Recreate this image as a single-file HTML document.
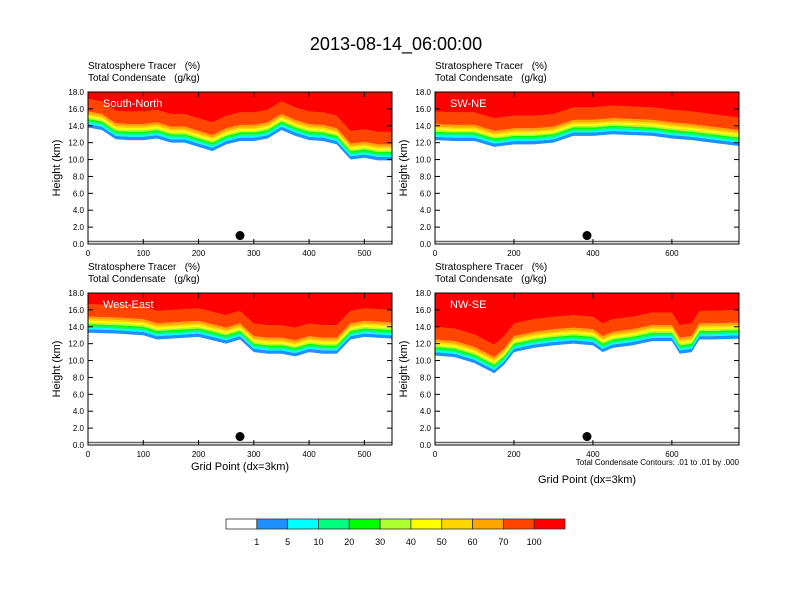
<!DOCTYPE html>
<html><head><meta charset="utf-8"><style>
body{margin:0;background:#fff}
svg{display:block;font-family:"Liberation Sans",sans-serif}
text{white-space:pre}
</style></head><body>
<svg id="c" width="792" height="612" viewBox="0 0 792 612">
<text x="396" y="50" font-size="18" text-anchor="middle">2013-08-14_06:00:00</text>
<g id="panels"></g>
<g id="cbar"></g>
</svg>
<script>
const levelLabels=["1","5","10","20","30","40","50","60","70","100"];
const levelColors=["#ffffff","#1e90ff","#00ffff","#00ff7f","#00ff00","#adff2f","#ffff00","#ffd700","#ffa500","#ff4500","#ff0000"];
const bandOffsets=[0,0.4,0.6,0.8,1.0,1.2,1.4,1.6,1.9,3.4];
const yTicks=[0,2,4,6,8,10,12,14,16,18];
const gridSN=[0,25,50,75,100,125,150,175,200,225,250,275,300,325,350,375,400,425,450,475,500,525,550];
const baseSN=[13.8,13.5,12.4,12.3,12.3,12.5,12.0,12.0,11.5,11.0,11.8,12.2,12.2,12.5,13.5,12.8,12.3,12.2,11.8,10.0,10.2,9.9,9.9];
const gridSWNE=[0,50,100,150,200,250,300,350,400,450,500,550,600,650,700,770];
const baseSWNE=[12.3,12.2,12.2,11.5,11.8,11.8,12.0,12.8,12.8,13.0,12.9,12.8,12.5,12.3,12.0,11.6];
const gridWE=[0,50,100,125,150,200,250,275,300,325,350,375,400,425,450,475,500,550];
const baseWE=[13.3,13.2,13.0,12.5,12.6,12.8,12.0,12.5,11.0,10.8,10.8,10.5,11.0,10.8,10.8,12.5,12.8,12.6];
const gridNWSE=[0,50,100,150,175,200,250,300,350,400,425,450,500,550,600,620,650,670,700,770];
const baseNWSE=[10.6,10.4,9.7,8.5,9.5,11.0,11.5,11.8,12.0,11.8,11.0,11.5,11.8,12.3,12.3,10.8,11.0,12.5,12.5,12.6];
const dotSN=[275,1.0],dotSWNE=[385,1.0],dotWE=[275,1.0],dotNWSE=[385,1.0];
const NS="http://www.w3.org/2000/svg";
function mk(t,a,p){const e=document.createElementNS(NS,t);for(const k in a)e.setAttribute(k,a[k]);p.appendChild(e);return e;}
const panels=[
 {name:"south-north",label:"South-North",x0:88,y0:92,xmax:550,xt:[0,100,200,300,400,500],grid:gridSN,base:baseSN,dot:dotSN,xlab:false},
 {name:"sw-ne",label:"SW-NE",x0:435,y0:92,xmax:770,xt:[0,200,400,600],grid:gridSWNE,base:baseSWNE,dot:dotSWNE,xlab:false},
 {name:"west-east",label:"West-East",x0:88,y0:293,xmax:550,xt:[0,100,200,300,400,500],grid:gridWE,base:baseWE,dot:dotWE,xlab:true},
 {name:"nw-se",label:"NW-SE",x0:435,y0:293,xmax:770,xt:[0,200,400,600],grid:gridNWSE,base:baseNWSE,dot:dotNWSE,xlab:true}];
const W=304,H=152,root=document.getElementById('panels');
panels.forEach(p=>{
 const g=mk('g',{},root);
 
 
 const sx=v=>p.x0+v/p.xmax*W, sy=v=>p.y0+H-v/18*H;
 const t1=mk('text',{x:p.x0,y:p.y0-23,'font-size':10},g);t1.textContent="Stratosphere Tracer   (%)";
 
 const t2=mk('text',{x:p.x0,y:p.y0-11,'font-size':10},g);t2.textContent="Total Condensate   (g/kg)";
 
 const cid='clip-'+p.name;
 const cp=mk('clipPath',{id:cid},g);mk('rect',{x:p.x0,y:p.y0,width:W,height:H},cp);
 const fills=mk('g',{'clip-path':'url(#'+cid+')'},g);
 for(let i=0;i<bandOffsets.length;i++){
  const lo=p.grid.map((x,j)=>[sx(x),sy(p.base[j]+bandOffsets[i])]);
  const hiv=i+1<bandOffsets.length?p.grid.map((x,j)=>[sx(x),sy(p.base[j]+bandOffsets[i+1])]):p.grid.map(x=>[sx(x),p.y0]);
  const pts=lo.concat(hiv.reverse()).map(q=>q.join(',')).join(' ');
  const band=mk('polygon',{points:pts,fill:levelColors[i+1]},fills);
  
  
 }
 const top=mk('polygon',{points:p.grid.map((x,j)=>sx(x)+','+sy(p.base[j]+bandOffsets[bandOffsets.length-1])).join(' ')+' '+sx(p.xmax)+','+p.y0+' '+p.x0+','+p.y0,fill:levelColors[10]},fills);
 
 
 const gl=mk('line',{x1:p.x0,x2:p.x0+W,y1:sy(0.3),y2:sy(0.3),stroke:'#666','stroke-width':1.5},g);
 
 const dot=mk('circle',{cx:sx(p.dot[0]),cy:sy(p.dot[1]),r:4.5,fill:'#000'},g);
 
 const fr=mk('rect',{x:p.x0,y:p.y0,width:W,height:H,fill:'none',stroke:'#000','stroke-width':1},g);
 
 const lb=mk('text',{x:p.x0+15,y:p.y0+15,'font-size':11,fill:'#fff'},g);lb.textContent=p.label;
 
 yTicks.forEach(v=>{
  const y=sy(v);
  mk('line',{x1:p.x0,x2:p.x0+5,y1:y,y2:y,stroke:'#000'},g);
  mk('line',{x1:p.x0+W,x2:p.x0+W-5,y1:y,y2:y,stroke:'#000'},g);
  const t=mk('text',{x:p.x0-4,y:y+3,'font-size':8,'text-anchor':'end'},g);t.textContent=v.toFixed(1);
  
 });
 p.xt.forEach(v=>{
  const x=sx(v);
  mk('line',{x1:x,x2:x,y1:p.y0+H,y2:p.y0+H-5,stroke:'#000'},g);
  mk('line',{x1:x,x2:x,y1:p.y0,y2:p.y0+5,stroke:'#000'},g);
  const t=mk('text',{x:x,y:p.y0+H+12,'font-size':8,'text-anchor':'middle'},g);t.textContent=v;
  
 });
 const yl=mk('text',{x:0,y:0,'font-size':11,'text-anchor':'middle',transform:'translate('+(p.x0-28)+','+(p.y0+H/2)+') rotate(-90)'},g);yl.textContent="Height (km)";
 
 if(p.xlab){
  const xl=mk('text',{x:p.x0+W/2,y:p.y0+H+(p.name==='nw-se'?38:25),'font-size':11,'text-anchor':'middle'},g);xl.textContent="Grid Point (dx=3km)";
  
 }
 if(p.name==='nw-se'){
  const n=mk('text',{x:p.x0+W,y:p.y0+H+20,'font-size':8,'text-anchor':'end'},g);n.textContent="Total Condensate Contours: .01 to .01 by .000";
  
 }
});
const cb=document.getElementById('cbar');
const bx=226,bw=339/11;
levelColors.forEach((c,i)=>{
 const r=mk('rect',{x:bx+i*bw,y:519,width:bw,height:10,fill:c,stroke:'#333','stroke-width':0.8},cb);
 
});
levelLabels.forEach((l,i)=>{
 const t=mk('text',{x:bx+(i+1)*bw,y:545,'font-size':9,'text-anchor':'middle'},cb);t.textContent=l;
 
});
</script>
</body></html>
